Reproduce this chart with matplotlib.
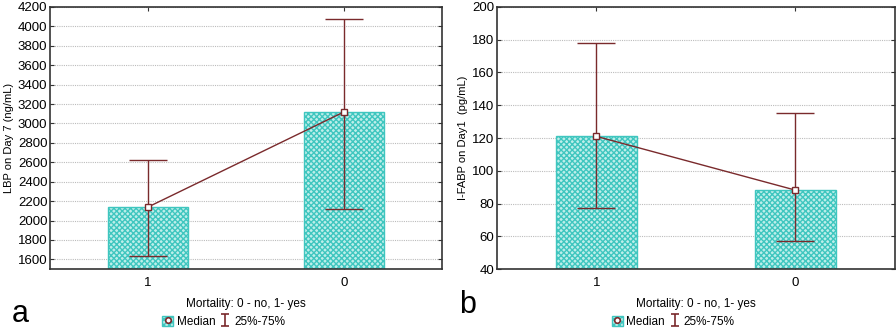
import numpy as np
import matplotlib
matplotlib.use('Agg')
import matplotlib.pyplot as plt
from matplotlib.patches import Patch
from matplotlib.lines import Line2D
from matplotlib.path import Path
from matplotlib.legend_handler import HandlerTuple

plt.rcParams['font.family'] = ['Liberation Sans', 'DejaVu Sans']
plt.rcParams['font.size'] = 8

# data
groups = ['1', '0']
lbp_median = [2140, 3120]
lbp_q25 = [1640, 2118]
lbp_q75 = [2622, 4075]
fabp_median = [121, 88.2]
fabp_q25 = [77.5, 57.2]
fabp_q75 = [177.8, 135.4]

xlabel = 'Mortality: 0 - no, 1- yes'
bar_face = '#bdeeea'
bar_edge = '#3fc6bf'
err_col = '#7a2a2c'

# I-beam marker for the legend
ibeam = Path([(-0.6, -1), (0.6, -1), (0, -1), (0, 1), (-0.6, 1), (0.6, 1)],
             [Path.MOVETO, Path.LINETO, Path.MOVETO, Path.LINETO, Path.MOVETO, Path.LINETO])

fig = plt.figure(figsize=(8.96, 3.31), dpi=100)


def panel(rect, med, q25, q75, ylim, yticks, ylabel, letter, letter_xy):
    ax = fig.add_axes(rect)
    x = np.arange(len(groups))
    ax.bar(x, np.array(med) - ylim[0], bottom=ylim[0], width=0.41,
           facecolor=bar_face, edgecolor=bar_edge, hatch='xxxxxx', linewidth=1.0, zorder=2)
    ax.errorbar(x, med, yerr=[np.array(med) - np.array(q25), np.array(q75) - np.array(med)],
                fmt='none', ecolor=err_col, elinewidth=1.0, capsize=14, capthick=1.0, zorder=3)
    ax.plot(x, med, color=err_col, lw=1.0, marker='s', markersize=4.5,
            markerfacecolor='white', markeredgecolor=err_col, markeredgewidth=1.0, zorder=4)
    ax.set_xlim(-0.5, 1.5)
    ax.set_ylim(*ylim)
    ax.set_yticks(yticks)
    ax.set_xticks(x)
    ax.set_xticklabels(groups)
    ax.yaxis.grid(True, linestyle=(0, (1, 1)), color='#bcbcbc', lw=0.8, zorder=0)
    ax.set_axisbelow(True)
    ax.tick_params(direction='in', length=3, top=True, right=True, pad=2, color='#333333',
                   labelsize=9.5)
    ax.tick_params(axis='x', pad=6)
    for s in ax.spines.values():
        s.set_linewidth(1.2)
        s.set_color('#333333')
    ax.set_ylabel(ylabel, labelpad=3)
    ax.set_xlabel(xlabel, labelpad=6, fontsize=8.5)
    fig.text(letter_xy[0], letter_xy[1], letter, fontsize=22, ha='left', va='center')

    med_h = (Patch(facecolor=bar_face, edgecolor=bar_edge, hatch='xxxxxx'),
             Line2D([], [], marker='o', markersize=4, markerfacecolor='white',
                    markeredgecolor=err_col, markeredgewidth=1.2, linestyle='none'))
    iqr_h = Line2D([], [], marker=ibeam, markersize=9, color=err_col,
                   markeredgewidth=1.2, linestyle='none')
    cx = rect[0] + rect[2] / 2 - 0.025
    fig.legend([med_h, iqr_h], ['Median', '25%-75%'], handler_map={tuple: HandlerTuple(ndivide=1, pad=0)},
               loc='center', bbox_to_anchor=(cx, 0.028), ncol=2, frameon=False,
               handlelength=0.9, handleheight=0.9, handletextpad=0.3, columnspacing=0.4, fontsize=8.5)
    return ax


panel([0.056, 0.187, 0.4375, 0.792], lbp_median, lbp_q25, lbp_q75,
      (1500, 4200), np.arange(1600, 4201, 200), 'LBP on Day 7 (ng/mL)', 'a', (0.013, 0.05))
panel([0.5547, 0.187, 0.444, 0.792], fabp_median, fabp_q25, fabp_q75,
      (40, 200), np.arange(40, 201, 20), 'I-FABP on Day1  (pg/mL)', 'b', (0.512, 0.08))

fig.savefig('out.png', dpi=100)
